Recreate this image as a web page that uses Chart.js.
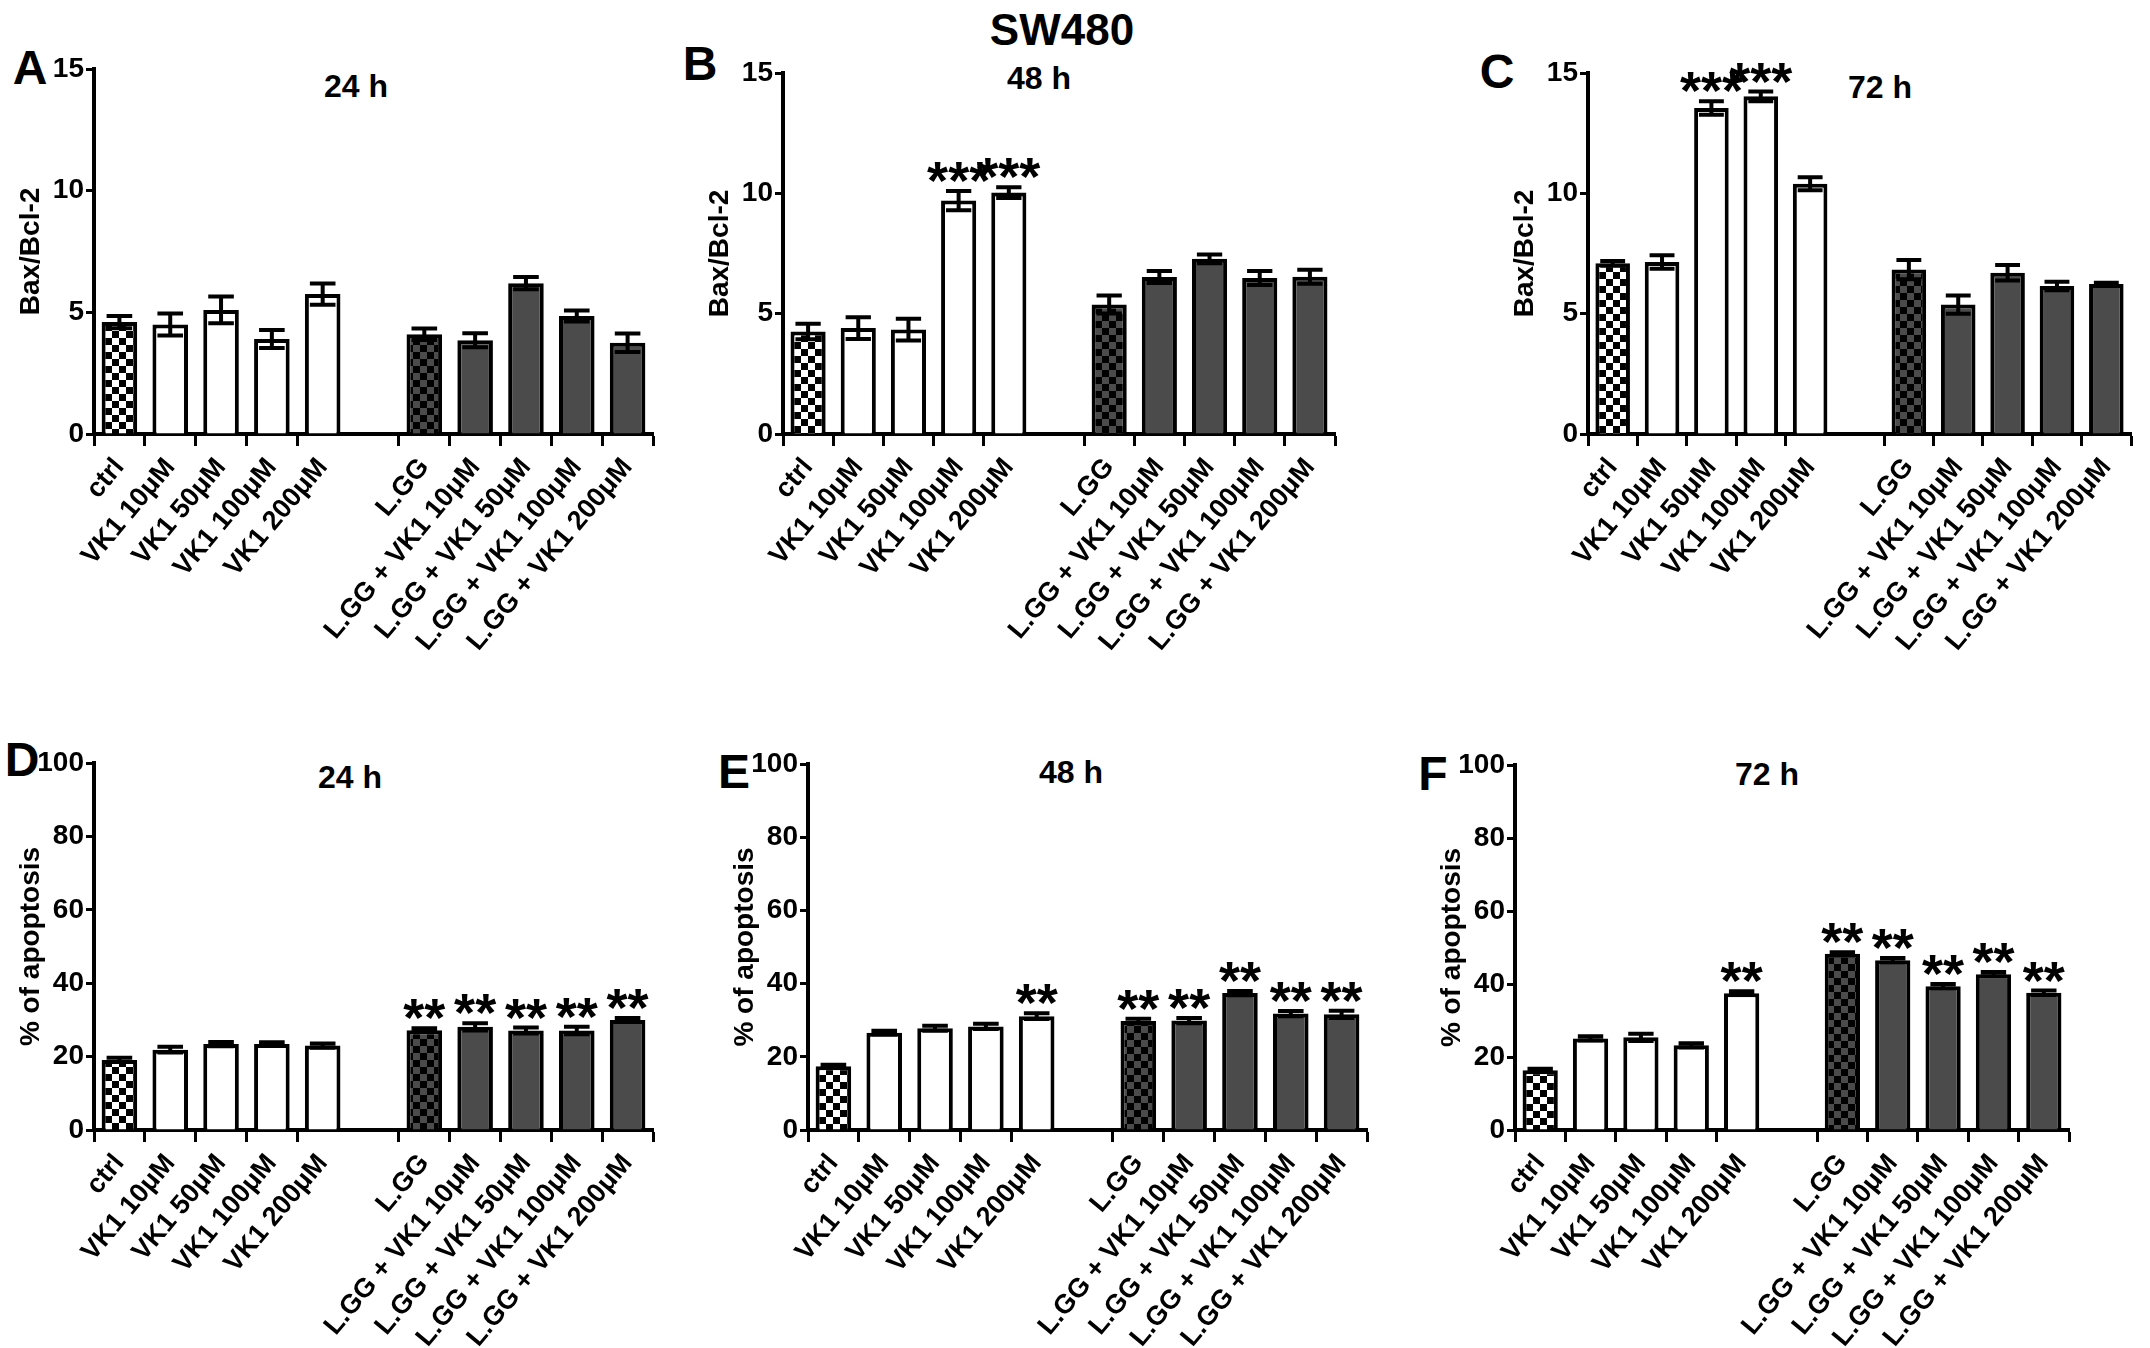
<!DOCTYPE html>
<html>
<head>
<meta charset="utf-8">
<script src="https://cdn.jsdelivr.net/npm/chart.js@4.4.0/dist/chart.umd.min.js"></script>
<style>
body{margin:0;background:#fff;width:2150px;height:1348px;position:relative;overflow:hidden;font-family:"Liberation Sans",Arial,sans-serif;}
.txt{position:absolute;font-weight:bold;color:#000;transform:translate(-50%,-50%);white-space:nowrap;line-height:1;}
canvas{position:absolute;}
</style>
</head>
<body>
<div class="txt" style="left:1062px;top:30px;font-size:44px">SW480</div>
<div class="txt" style="left:30px;top:68px;font-size:48px">A</div>
<div class="txt" style="left:700px;top:64px;font-size:48px">B</div>
<div class="txt" style="left:1497px;top:72px;font-size:48px">C</div>
<div class="txt" style="left:22px;top:760px;font-size:48px">D</div>
<div class="txt" style="left:734px;top:772px;font-size:48px">E</div>
<div class="txt" style="left:1433px;top:774px;font-size:48px">F</div>
<div class="txt" style="left:356px;top:86px;font-size:32px">24 h</div>
<div class="txt" style="left:1039px;top:78px;font-size:32px">48 h</div>
<div class="txt" style="left:1880px;top:87px;font-size:32px">72 h</div>
<div class="txt" style="left:350px;top:777px;font-size:32px">24 h</div>
<div class="txt" style="left:1071px;top:772px;font-size:32px">48 h</div>
<div class="txt" style="left:1767px;top:774px;font-size:32px">72 h</div>

<script>
// groups on the x axis, the empty one makes the gap between the two groups
var categories = ['ctrl', 'VK1 10μM', 'VK1 50μM', 'VK1 100μM', 'VK1 200μM', '',
  'L.GG', 'L.GG + VK1 10μM', 'L.GG + VK1 50μM', 'L.GG + VK1 100μM', 'L.GG + VK1 200μM'];

// Bax/Bcl-2 ratio
var bax24 = [4.6, 4.5, 5.1, 3.9, 5.75, null, 4.1, 3.85, 6.2, 4.85, 3.75];
var bax24Err = [0.25, 0.45, 0.55, 0.37, 0.44, null, 0.24, 0.29, 0.25, 0.23, 0.38];
var bax24Stars = ['', '', '', '', '', '', '', '', '', '', ''];

var bax48 = [4.26, 4.4, 4.34, 9.7, 10.03, null, 5.38, 6.52, 7.28, 6.48, 6.53];
var bax48Err = [0.32, 0.45, 0.45, 0.4, 0.22, null, 0.37, 0.25, 0.18, 0.29, 0.29];
var bax48Stars = ['', '', '', '***', '***', '', '', '', '', '', ''];

var bax72 = [7.09, 7.15, 13.55, 14.03, 10.4, null, 6.83, 5.38, 6.7, 6.15, 6.23];
var bax72Err = [0.1, 0.28, 0.28, 0.2, 0.27, null, 0.4, 0.38, 0.32, 0.18, 0.05];
var bax72Stars = ['', '', '***', '***', '', '', '', '', '', '', ''];

// % of apoptosis
var apo24 = [19.1, 21.9, 23.4, 23.4, 23.0, null, 27.2, 28.1, 27.1, 27.1, 30.0];
var apo24Err = [0.6, 0.8, 0.6, 0.5, 0.6, null, 0.5, 1.0, 0.8, 1.0, 0.5];
var apo24Stars = ['', '', '', '', '', '', '**', '**', '**', '**', '**'];

var apo48 = [17.4, 26.6, 27.8, 28.3, 31.1, null, 29.8, 29.9, 37.4, 31.8, 31.6];
var apo48Err = [0.4, 0.5, 0.7, 0.7, 0.8, null, 0.6, 0.7, 0.6, 0.7, 1.0];
var apo48Stars = ['', '', '', '', '**', '', '**', '**', '**', '**', '**'];

var apo72 = [16.4, 25.1, 25.4, 23.2, 37.5, null, 48.3, 46.5, 39.4, 42.7, 37.6];
var apo72Err = [0.4, 0.6, 1.0, 0.6, 0.5, null, 0.4, 0.6, 0.6, 0.6, 0.6];
var apo72Stars = ['', '', '', '', '**', '', '**', '**', '**', '**', '**'];

var baxTicks = [0, 5, 10, 15];
var apoTicks = [0, 20, 40, 60, 80, 100];

Chart.defaults.font.family = '"Liberation Sans", Arial, sans-serif';
Chart.defaults.color = '#000';

function checker(c1, c2) {
  var tile = document.createElement('canvas');
  tile.width = 14; tile.height = 14;
  var t = tile.getContext('2d');
  t.fillStyle = c1; t.fillRect(0, 0, 14, 14);
  t.fillStyle = c2; t.fillRect(0, 0, 7, 7); t.fillRect(7, 7, 7, 7);
  return t.createPattern(tile, 'repeat');
}
var grey = '#4b4b4b';
var fills = [checker('#fff', '#000'), '#fff', '#fff', '#fff', '#fff', null,
  checker(grey, '#000'), grey, grey, grey, grey];

var errorBars = {
  id: 'errorBars',
  afterDatasetsDraw: function(chart, args, opts) {
    var ctx = chart.ctx;
    var y = chart.scales.y;
    var vals = chart.data.datasets[0].data;
    ctx.save();
    ctx.strokeStyle = '#000';
    ctx.fillStyle = '#000';
    ctx.lineWidth = 4;
    ctx.font = 'bold 54px "Liberation Sans", Arial, sans-serif';
    ctx.textAlign = 'center';
    ctx.textBaseline = 'alphabetic';
    chart.getDatasetMeta(0).data.forEach(function(bar, i) {
      var v = vals[i];
      if (v == null) return;
      var p = bar.getProps(['x', 'width'], true);
      var top = y.getPixelForValue(v + opts.errors[i]);
      var bot = y.getPixelForValue(v - opts.errors[i]);
      var half = p.width * 0.36;
      ctx.beginPath();
      ctx.moveTo(p.x, top); ctx.lineTo(p.x, bot);
      ctx.moveTo(p.x - half, top); ctx.lineTo(p.x + half, top);
      ctx.moveTo(p.x - half, bot); ctx.lineTo(p.x + half, bot);
      ctx.stroke();
      if (opts.stars[i]) ctx.fillText(opts.stars[i], p.x, top + 8);
    });
    ctx.restore();
  }
};

var panels = [
  {values: bax24, errors: bax24Err, stars: bax24Stars, ticks: baxTicks, title: 'Bax/Bcl-2', left: 94, right: 653, top: 69, bottom: 434, labelH: 260},
  {values: bax48, errors: bax48Err, stars: bax48Stars, ticks: baxTicks, title: 'Bax/Bcl-2', left: 783, right: 1335, top: 73, bottom: 434, labelH: 260},
  {values: bax72, errors: bax72Err, stars: bax72Stars, ticks: baxTicks, title: 'Bax/Bcl-2', left: 1588, right: 2131, top: 73, bottom: 434, labelH: 260},
  {values: apo24, errors: apo24Err, stars: apo24Stars, ticks: apoTicks, title: '% of apoptosis', left: 94, right: 653, top: 763, bottom: 1130, labelH: 218},
  {values: apo48, errors: apo48Err, stars: apo48Stars, ticks: apoTicks, title: '% of apoptosis', left: 808, right: 1367, top: 764, bottom: 1130, labelH: 218},
  {values: apo72, errors: apo72Err, stars: apo72Stars, ticks: apoTicks, title: '% of apoptosis', left: 1515, right: 2069, top: 765, bottom: 1130, labelH: 218}
];

panels.forEach(function(p) {
  var axisW = 80, padTop = 60, padRight = 12;
  var w = axisW + (p.right - p.left) + padRight;
  var h = padTop + (p.bottom - p.top) + p.labelH;
  var cv = document.createElement('canvas');
  cv.width = w; cv.height = h;
  cv.style.width = w + 'px'; cv.style.height = h + 'px';
  cv.style.left = (p.left - axisW) + 'px';
  cv.style.top = (p.top - padTop) + 'px';
  document.body.appendChild(cv);

  new Chart(cv, {
    type: 'bar',
    data: {
      labels: categories,
      datasets: [{
        data: p.values,
        backgroundColor: fills,
        borderColor: '#000',
        borderWidth: 4,
        barPercentage: 0.7,
        categoryPercentage: 1.0
      }]
    },
    options: {
      responsive: false,
      animation: false,
      devicePixelRatio: 1,
      layout: {padding: {top: padTop, right: padRight, left: 0, bottom: 0}},
      plugins: {
        legend: {display: false},
        tooltip: {enabled: false},
        errorBars: {errors: p.errors, stars: p.stars}
      },
      scales: {
        x: {
          grid: {
            drawOnChartArea: false, drawTicks: true, tickLength: 12, tickWidth: 3,
            tickColor: function(c) { return c.index === 5 ? 'rgba(0,0,0,0)' : '#000'; }
          },
          border: {color: '#000', width: 4},
          ticks: {autoSkip: false, minRotation: 50, maxRotation: 50, padding: 6,
            font: {size: 27, weight: 'bold'}},
          afterFit: function(s) { s.height = p.labelH; }
        },
        y: {
          min: 0,
          max: p.ticks[p.ticks.length - 1],
          afterBuildTicks: function(s) { s.ticks = p.ticks.map(function(v) { return {value: v}; }); },
          grid: {drawOnChartArea: false, drawTicks: true, tickLength: 8, tickWidth: 3, tickColor: '#000'},
          border: {color: '#000', width: 4},
          ticks: {padding: 2, font: {family: '"Liberation Sans Narrow", "Liberation Sans", Arial, sans-serif', size: 28, weight: 'bold'}},
          title: {display: true, text: p.title, padding: 0, font: {size: 28, weight: 'bold'}},
          afterFit: function(s) { s.width = axisW; }
        }
      }
    },
    plugins: [errorBars]
  });
});
</script>
</body>
</html>
